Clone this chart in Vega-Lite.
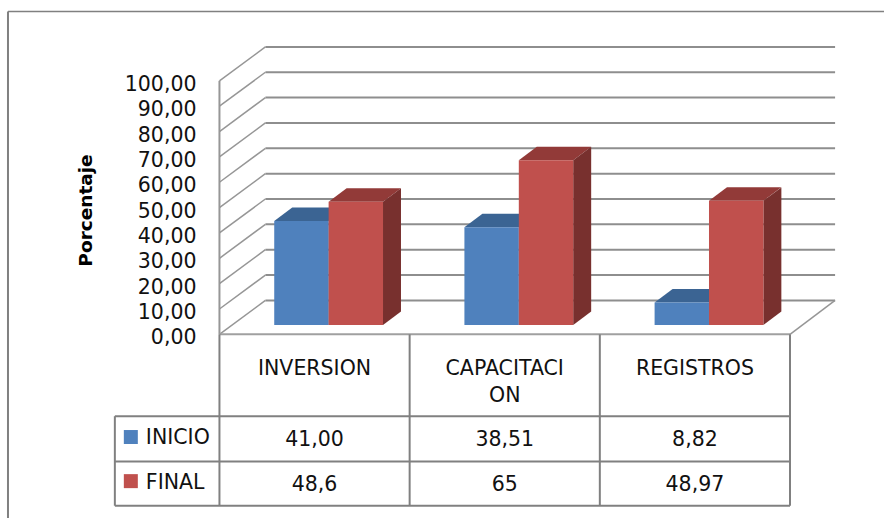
{
"$schema":"https://vega.github.io/schema/vega-lite/v6.json",
"width":885,"height":519,"autosize":{"type":"fit","contains":"padding"},"padding":0,"background":"white",
"config":{"view":{"stroke":null},"text":{"font":"DejaVu Sans"}},
"resolve":{"axis":{"y":"independent"}},
"datasets":{
"barras":[
{"categoria":"INVERSION","serie":"INICIO","valor":41.00,"etiqueta":"41,00"},
{"categoria":"INVERSION","serie":"FINAL","valor":48.6,"etiqueta":"48,6"},
{"categoria":"CAPACITACION","serie":"INICIO","valor":38.51,"etiqueta":"38,51"},
{"categoria":"CAPACITACION","serie":"FINAL","valor":65,"etiqueta":"65"},
{"categoria":"REGISTROS","serie":"INICIO","valor":8.82,"etiqueta":"8,82"},
{"categoria":"REGISTROS","serie":"FINAL","valor":48.97,"etiqueta":"48,97"}],
"grid":[{"v":0},{"v":10},{"v":20},{"v":30},{"v":40},{"v":50},{"v":60},{"v":70},{"v":80},{"v":90},{"v":100}],
"uno":[{"a":1}],
"series":[{"serie":"INICIO","fila":-41,"clave":-40.5},{"serie":"FINAL","fila":-58.6,"clave":-57.9}]
},
"layer":[
{"data":{"name":"uno"},"mark":{"type":"rule","stroke":"#808080","strokeWidth":1.5},
 "encoding":{"x":{"datum":-1.1119,"type":"quantitative","scale":{"domain":[-1.1539,3.4942],"nice":false,"zero":false},"axis":null},"x2":{"datum":3.4942},
 "y":{"datum":127.4,"type":"quantitative","scale":{"domain":[-72.44,131.89],"nice":false,"zero":false},
  "axis":{"orient":"left","offset":-196,"values":[0,10,20,30,40,50,60,70,80,90,100],"domain":false,"ticks":false,"grid":false,"labelPadding":0,"labelOffset":3.5,"labelFont":"DejaVu Sans","labelFontSize":20.5,"labelColor":"#111111","labelOverlap":false,"labelExpr":"replace(format(datum.value,'.2f'),'.',',')","title":"Porcentaje","titleFont":"DejaVu Sans","titleFontSize":18.5,"titleFontWeight":"bold","titleColor":"#000000","titleAngle":270,"titleX":-111,"titleY":210,"titleAlign":"center","titleBaseline":"middle"}}}},
{"data":{"name":"uno"},"mark":{"type":"rule","stroke":"#808080","strokeWidth":2},
 "encoding":{"x":{"datum":-1.1119,"type":"quantitative","scale":{"domain":[-1.1539,3.4942],"nice":false,"zero":false},"axis":null},
 "y":{"datum":127.4,"type":"quantitative","scale":{"domain":[-72.44,131.89],"nice":false,"zero":false},"axis":null},"y2":{"datum":-72.44}}},
{"data":{"name":"grid"},"transform":[{"calculate":"datum.v+13.39","as":"vb"}],"mark":{"type":"rule","stroke":"#8e8e8e","strokeWidth":2},
 "encoding":{"x":{"datum":0.2416,"type":"quantitative","scale":{"domain":[-1.1539,3.4942],"nice":false,"zero":false},"axis":null},"x2":{"datum":3.237},
 "y":{"field":"vb","type":"quantitative","scale":{"domain":[-72.44,131.89],"nice":false,"zero":false},"axis":null}}},
{"data":{"name":"grid"},"transform":[{"calculate":"datum.v+13.39","as":"vb"}],"mark":{"type":"rule","stroke":"#969696","strokeWidth":1.5},
 "encoding":{"x":{"datum":0,"type":"quantitative","scale":{"domain":[-1.1539,3.4942],"nice":false,"zero":false},"axis":null},"x2":{"datum":0.2416},
 "y":{"field":"v","type":"quantitative","scale":{"domain":[-72.44,131.89],"nice":false,"zero":false},"axis":null},"y2":{"field":"vb"}}},
{"data":{"name":"uno"},"mark":{"type":"rule","stroke":"#969696","strokeWidth":1.5},
 "encoding":{"x":{"datum":3,"type":"quantitative","scale":{"domain":[-1.1539,3.4942],"nice":false,"zero":false},"axis":null},"x2":{"datum":3.237},
 "y":{"datum":0,"type":"quantitative","scale":{"domain":[-72.44,131.89],"nice":false,"zero":false},"axis":null},"y2":{"datum":13.39}}},
{"data":{"name":"uno"},"mark":{"type":"rule","stroke":"#969696","strokeWidth":2},
 "encoding":{"x":{"datum":0,"type":"quantitative","scale":{"domain":[-1.1539,3.4942],"nice":false,"zero":false},"axis":null},
 "y":{"datum":0,"type":"quantitative","scale":{"domain":[-72.44,131.89],"nice":false,"zero":false},"axis":null},"y2":{"datum":100}}},
{"data":{"name":"uno"},"mark":{"type":"rule","stroke":"#a0a0a0","strokeWidth":2},
 "encoding":{"x":{"datum":0,"type":"quantitative","scale":{"domain":[-1.1539,3.4942],"nice":false,"zero":false},"axis":null},"x2":{"datum":3},
 "y":{"datum":0,"type":"quantitative","scale":{"domain":[-72.44,131.89],"nice":false,"zero":false},"axis":null}}},
{"data":{"name":"barras"},
 "transform":[{"calculate":"indexof(['INVERSION','CAPACITACION','REGISTROS'],datum.categoria)","as":"i"},
  {"calculate":"datum.i+0.574+(datum.serie=='INICIO'?-0.143:0.143)","as":"xc"},
  {"calculate":"datum.valor+3.7","as":"cima"}],
 "mark":{"type":"point","filled":true,"opacity":1,"strokeWidth":0,"size":4,"shape":"M-27.2,0L27.2,0L45.2,-13.5L-9.2,-13.5Z"},
 "encoding":{"x":{"field":"xc","type":"quantitative","scale":{"domain":[-1.1539,3.4942],"nice":false,"zero":false},"axis":null},
 "y":{"field":"cima","type":"quantitative","scale":{"domain":[-72.44,131.89],"nice":false,"zero":false},"axis":null},
 "color":{"condition":{"test":"datum.serie=='INICIO'","value":"#3b6493"},"value":"#923a38"}}},
{"data":{"name":"barras"},
 "transform":[{"calculate":"indexof(['INVERSION','CAPACITACION','REGISTROS'],datum.categoria)","as":"i"},
  {"calculate":"datum.i+0.574+(datum.serie=='INICIO'?-0.143:0.143)+0.143","as":"xd"},
  {"calculate":"0","as":"p0"},{"calculate":"1","as":"p1"},
  {"fold":["p0","p1"],"as":["k","f"]},
  {"calculate":"datum.xd+0.0945*datum.f","as":"xs"},
  {"calculate":"datum.valor+3.7+5.3*datum.f","as":"sup"},
  {"calculate":"3.7+5.3*datum.f","as":"inf"},
  {"calculate":"datum.categoria+datum.serie","as":"id"}],
 "mark":{"type":"area","opacity":1},
 "encoding":{"x":{"field":"xs","type":"quantitative","scale":{"domain":[-1.1539,3.4942],"nice":false,"zero":false},"axis":null},
 "y":{"field":"sup","type":"quantitative","scale":{"domain":[-72.44,131.89],"nice":false,"zero":false},"axis":null},"y2":{"field":"inf"},
 "detail":{"field":"id"},
 "color":{"condition":{"test":"datum.serie=='INICIO'","value":"#2f5077"},"value":"#78302e"}}},
{"data":{"name":"barras"},
 "transform":[{"calculate":"indexof(['INVERSION','CAPACITACION','REGISTROS'],datum.categoria)","as":"i"},
  {"calculate":"datum.i+0.574+(datum.serie=='INICIO'?-0.286:0)","as":"x0"},
  {"calculate":"datum.x0+0.286","as":"x1"},
  {"calculate":"datum.valor+3.7","as":"cima"},{"calculate":"3.7","as":"pie"}],
 "mark":{"type":"rect","opacity":1},
 "encoding":{"x":{"field":"x0","type":"quantitative","scale":{"domain":[-1.1539,3.4942],"nice":false,"zero":false},"axis":null},"x2":{"field":"x1"},
 "y":{"field":"cima","type":"quantitative","scale":{"domain":[-72.44,131.89],"nice":false,"zero":false},"axis":null},"y2":{"field":"pie"},
 "color":{"condition":{"test":"datum.serie=='INICIO'","value":"#4f81bd"},"value":"#c0504d"}}},
{"data":{"values":[{"v":0},{"v":1},{"v":2},{"v":3}]},"mark":{"type":"rule","stroke":"#808080","strokeWidth":2},
 "encoding":{"x":{"field":"v","type":"quantitative","scale":{"domain":[-1.1539,3.4942],"nice":false,"zero":false},"axis":null},
 "y":{"datum":0,"type":"quantitative","scale":{"domain":[-72.44,131.89],"nice":false,"zero":false},"axis":null},"y2":{"datum":-67.6}}},
{"data":{"values":[{"v":-32.28},{"v":-50.2},{"v":-67.6}]},"mark":{"type":"rule","stroke":"#808080","strokeWidth":2},
 "encoding":{"x":{"datum":-0.55,"type":"quantitative","scale":{"domain":[-1.1539,3.4942],"nice":false,"zero":false},"axis":null},"x2":{"datum":3},
 "y":{"field":"v","type":"quantitative","scale":{"domain":[-72.44,131.89],"nice":false,"zero":false},"axis":null}}},
{"data":{"name":"uno"},"mark":{"type":"rule","stroke":"#808080","strokeWidth":2},
 "encoding":{"x":{"datum":-0.55,"type":"quantitative","scale":{"domain":[-1.1539,3.4942],"nice":false,"zero":false},"axis":null},
 "y":{"datum":-32.28,"type":"quantitative","scale":{"domain":[-72.44,131.89],"nice":false,"zero":false},"axis":null},"y2":{"datum":-67.6}}},
{"data":{"name":"barras"},
 "transform":[{"filter":"datum.serie=='INICIO'"},{"calculate":"indexof(['INVERSION','CAPACITACION','REGISTROS'],datum.categoria)+0.5","as":"xc"},
  {"calculate":"replace(datum.categoria,'CAPACITACION','CAPACITACI\\nON')","as":"rotulo"}],
 "mark":{"type":"text","baseline":"top","align":"center","fontSize":20.5,"lineBreak":"\n","lineHeight":27,"font":"DejaVu Sans","color":"#111111"},
 "encoding":{"x":{"field":"xc","type":"quantitative","scale":{"domain":[-1.1539,3.4942],"nice":false,"zero":false},"axis":null},
 "y":{"datum":-9.6,"type":"quantitative","scale":{"domain":[-72.44,131.89],"nice":false,"zero":false},"axis":null},
 "text":{"field":"rotulo"}}},
{"data":{"name":"barras"},
 "transform":[{"calculate":"indexof(['INVERSION','CAPACITACION','REGISTROS'],datum.categoria)+0.5","as":"xc"},
  {"calculate":"datum.serie=='INICIO'?-41.8:-59.3","as":"fila"}],
 "mark":{"type":"text","baseline":"middle","align":"center","fontSize":20.5,"font":"DejaVu Sans","color":"#111111"},
 "encoding":{"x":{"field":"xc","type":"quantitative","scale":{"domain":[-1.1539,3.4942],"nice":false,"zero":false},"axis":null},
 "y":{"field":"fila","type":"quantitative","scale":{"domain":[-72.44,131.89],"nice":false,"zero":false},"axis":null},
 "text":{"field":"etiqueta"}}},
{"data":{"name":"series"},
 "mark":{"type":"text","baseline":"middle","align":"left","fontSize":20.5,"font":"DejaVu Sans","color":"#111111"},
 "encoding":{"x":{"datum":-0.387,"type":"quantitative","scale":{"domain":[-1.1539,3.4942],"nice":false,"zero":false},"axis":null},
 "y":{"field":"fila","type":"quantitative","scale":{"domain":[-72.44,131.89],"nice":false,"zero":false},"axis":null},
 "text":{"field":"serie"}}},
{"data":{"name":"series"},
 "mark":{"type":"point","shape":"square","filled":true,"opacity":1,"strokeWidth":0,"size":196},
 "encoding":{"x":{"datum":-0.466,"type":"quantitative","scale":{"domain":[-1.1539,3.4942],"nice":false,"zero":false},"axis":null},
 "y":{"field":"clave","type":"quantitative","scale":{"domain":[-72.44,131.89],"nice":false,"zero":false},"axis":null},
 "color":{"condition":{"test":"datum.serie=='INICIO'","value":"#4f81bd"},"value":"#c0504d"}}}
]
}
